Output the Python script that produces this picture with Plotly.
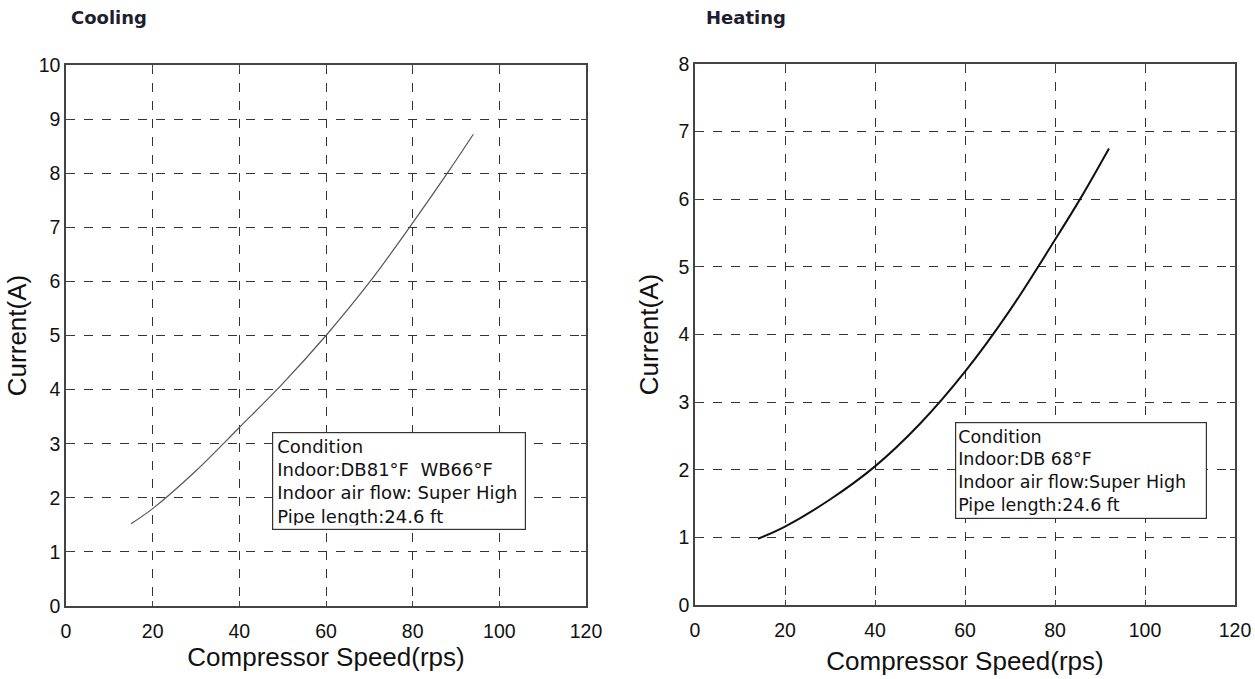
import plotly.graph_objects as go

# Cooling curve
cool_speed = [15, 20, 30, 40, 50, 60, 70, 80, 88, 94]
cool_current = [1.52, 1.8, 2.5, 3.3, 4.11, 5.0, 5.98, 7.08, 8.0, 8.72]
# Heating curve
heat_speed = [14, 20, 30, 40, 50, 60, 70, 80, 86, 92]
heat_current = [0.98, 1.16, 1.56, 2.05, 2.68, 3.45, 4.36, 5.4, 6.05, 6.75]

x_ticks = [0, 20, 40, 60, 80, 100, 120]
cool_y_ticks = list(range(0, 11))
heat_y_ticks = list(range(0, 9))

cool_note = ["Condition", "Indoor:DB81°F\u00a0\u00a0WB66°F", "Indoor air flow: Super High", "Pipe length:24.6 ft"]
heat_note = ["Condition", "Indoor:DB 68°F", "Indoor air flow:Super High", "Pipe length:24.6 ft"]

W, H = 1255, 679
FONT = "Liberation Sans, Arial, sans-serif"

def px_x(p):
    return p / W

def px_y(p):
    return 1 - p / H

fig = go.Figure()
fig.add_trace(go.Scatter(x=cool_speed, y=cool_current, mode="lines", line=dict(color="#555555", width=1.2, shape="spline"),
                         xaxis="x", yaxis="y", showlegend=False, hoverinfo="skip"))
fig.add_trace(go.Scatter(x=heat_speed, y=heat_current, mode="lines", line=dict(color="#111111", width=2, shape="spline"),
                         xaxis="x2", yaxis="y2", showlegend=False, hoverinfo="skip"))

axis_common = dict(showline=True, linecolor="#444444", linewidth=1.5, mirror="ticks",
                   showgrid=True, gridcolor="#333333", gridwidth=1.2, griddash="dash",
                   ticks="inside", ticklen=5, tickcolor="#444444", zeroline=False, automargin=False,
                   tickfont=dict(family=FONT, size=19.5, color="#111111"))
TFONT = dict(family=FONT, size=26, color="#111111")

fig.update_layout(
    width=W, height=H,
    margin=dict(l=0, r=0, t=0, b=0),
    paper_bgcolor="white", plot_bgcolor="white",
    xaxis=dict(domain=[px_x(66), px_x(586)], range=[0, 120], tickvals=x_ticks, anchor="y", ticklabelstandoff=7,
               title=dict(text="Compressor Speed(rps)", font=TFONT, standoff=4),
               **axis_common),
    yaxis=dict(domain=[px_y(606), px_y(65)], range=[0, 10], tickvals=cool_y_ticks, anchor="x",
               title=dict(text="Current(A)", font=TFONT, standoff=5),
               **axis_common),
    xaxis2=dict(domain=[px_x(695), px_x(1235)], range=[0, 120], tickvals=x_ticks, anchor="y2", ticklabelstandoff=7,
                title=dict(text="Compressor Speed(rps)", font=TFONT, standoff=12),
                **axis_common),
    yaxis2=dict(domain=[px_y(605), px_y(64)], range=[0, 8], tickvals=heat_y_ticks, anchor="x2",
                title=dict(text="Current(A)", font=TFONT, standoff=12),
                **axis_common),
)

HFONT = dict(family="DejaVu Sans, sans-serif", size=18, color="#1e1e30")
fig.add_annotation(text="<b>Cooling</b>", xref="paper", yref="paper", x=px_x(69), y=px_y(17),
                   xanchor="left", yanchor="middle", showarrow=False, font=HFONT)
fig.add_annotation(text="<b>Heating</b>", xref="paper", yref="paper", x=px_x(704), y=px_y(17),
                   xanchor="left", yanchor="middle", showarrow=False, font=HFONT)

NFONT = dict(family="DejaVu Sans, sans-serif", size=18, color="#111111")
fig.add_annotation(text="<br>".join(cool_note), xref="paper", yref="paper", x=px_x(272), y=px_y(432),
                   xanchor="left", yanchor="top", align="left", valign="middle", showarrow=False,
                   width=244, height=88,
                   bordercolor="#333333", borderwidth=1.2, borderpad=4, bgcolor="white", font=NFONT)
fig.add_annotation(text="<br>".join(heat_note), xref="paper", yref="paper", x=px_x(955), y=px_y(422),
                   xanchor="left", yanchor="top", align="left", valign="middle", showarrow=False,
                   width=246, height=91,
                   bordercolor="#333333", borderwidth=1.2, borderpad=2, bgcolor="white",
                   font=dict(family="DejaVu Sans, sans-serif", size=17.5, color="#111111"))

fig.write_html("out.html", config={"displayModeBar": False},
               post_script="document.body.style.margin='0';")
